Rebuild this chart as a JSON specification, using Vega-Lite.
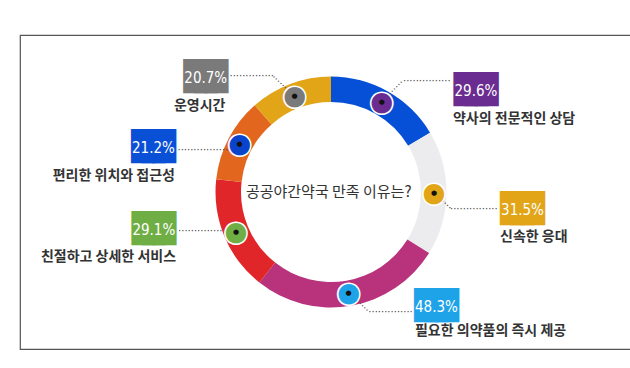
{
  "$schema": "https://vega.github.io/schema/vega-lite/v6.json",
  "width": 622,
  "height": 314,
  "autosize": {"type": "none"},
  "padding": {"left": 20, "top": 35, "right": -12, "bottom": 19},
  "background": "white",
  "view": {"stroke": "#555", "strokeWidth": 1.2},
  "data": {
    "values": [
      {"label": "약사의 전문적인 상담", "pct": "29.6%", "value": 29.6, "order": 1},
      {"label": "신속한 응대", "pct": "31.5%", "value": 31.5, "order": 2},
      {"label": "필요한 의약품의 즉시 제공", "pct": "48.3%", "value": 48.3, "order": 3},
      {"label": "친절하고 상세한 서비스", "pct": "29.1%", "value": 29.1, "order": 4},
      {"label": "편리한 위치와 접근성", "pct": "21.2%", "value": 21.2, "order": 5},
      {"label": "운영시간", "pct": "20.7%", "value": 20.7, "order": 6}
    ]
  },
  "encoding": {
    "theta": {"field": "value", "type": "quantitative", "stack": true},
    "order": {"field": "order", "type": "quantitative"}
  },
  "layer": [
    {
      "mark": {"type": "arc", "innerRadius": 90, "outerRadius": 115.5},
      "encoding": {
        "color": {
          "field": "label", "type": "nominal", "legend": null,
          "scale": {
            "domain": ["약사의 전문적인 상담", "신속한 응대", "필요한 의약품의 즉시 제공", "친절하고 상세한 서비스", "편리한 위치와 접근성", "운영시간"],
            "range": ["#0650d8", "#ececef", "#b8327c", "#e1262a", "#e3661f", "#e1a517"]
          }
        }
      }
    },
    {"mark": {"type": "text", "radius": 103, "align": "left", "baseline": "middle", "angle": 315, "dx": 10.5, "font": "DejaVu Sans", "fontSize": 10, "fill": "#444"},
     "encoding": {"text": {"condition": {"test": "datum.order === 1", "value": "······"}, "value": ""}}},
    {"mark": {"type": "text", "radius": 103, "align": "left", "baseline": "middle", "dx": 21.2, "dy": -21.4, "font": "DejaVu Sans", "fontSize": 10, "fill": "#444"},
     "encoding": {"text": {"condition": {"test": "datum.order === 1", "value": "···············"}, "value": ""}}},
    {"mark": {"type": "text", "radius": 103, "align": "left", "baseline": "middle", "angle": 44.5, "dx": 10.5, "font": "DejaVu Sans", "fontSize": 10, "fill": "#444"},
     "encoding": {"text": {"condition": {"test": "datum.order === 2", "value": "····"}, "value": ""}}},
    {"mark": {"type": "text", "radius": 103, "align": "left", "baseline": "middle", "dx": 16, "dy": 15.7, "font": "DejaVu Sans", "fontSize": 10, "fill": "#444"},
     "encoding": {"text": {"condition": {"test": "datum.order === 2", "value": "···············"}, "value": ""}}},
    {"mark": {"type": "text", "radius": 103, "align": "left", "baseline": "middle", "angle": 43, "dx": 10.5, "font": "DejaVu Sans", "fontSize": 10, "fill": "#444"},
     "encoding": {"text": {"condition": {"test": "datum.order === 3", "value": "·····"}, "value": ""}}},
    {"mark": {"type": "text", "radius": 103, "align": "left", "baseline": "middle", "dx": 19.6, "dy": 18.5, "font": "DejaVu Sans", "fontSize": 10, "fill": "#444"},
     "encoding": {"text": {"condition": {"test": "datum.order === 3", "value": "··············"}, "value": ""}}},
    {"mark": {"type": "text", "radius": 103, "align": "left", "baseline": "middle", "dx": -57.9, "dy": -0.5, "font": "DejaVu Sans", "fontSize": 10, "fill": "#444"},
     "encoding": {"text": {"condition": {"test": "datum.order === 4", "value": "···············"}, "value": ""}}},
    {"mark": {"type": "text", "radius": 103, "align": "left", "baseline": "middle", "dx": -62.2, "dy": 5.2, "font": "DejaVu Sans", "fontSize": 10, "fill": "#444"},
     "encoding": {"text": {"condition": {"test": "datum.order === 5", "value": "·················"}, "value": ""}}},
    {"mark": {"type": "text", "radius": 103, "align": "left", "baseline": "middle", "angle": 223, "dx": 10.5, "font": "DejaVu Sans", "fontSize": 10, "fill": "#444"},
     "encoding": {"text": {"condition": {"test": "datum.order === 6", "value": "······"}, "value": ""}}},
    {"mark": {"type": "text", "radius": 103, "align": "left", "baseline": "middle", "dx": -65.2, "dy": -19.6, "font": "DejaVu Sans", "fontSize": 10, "fill": "#444"},
     "encoding": {"text": {"condition": {"test": "datum.order === 6", "value": "··············"}, "value": ""}}},
    {
      "mark": {"type": "text", "radius": 103, "text": "●", "font": "DejaVu Sans", "fontSize": 29, "align": "center", "baseline": "middle", "stroke": "white", "strokeWidth": 1.5},
      "encoding": {
        "fill": {
          "field": "label", "type": "nominal", "legend": null,
          "scale": {
            "domain": ["약사의 전문적인 상담", "신속한 응대", "필요한 의약품의 즉시 제공", "친절하고 상세한 서비스", "편리한 위치와 접근성", "운영시간"],
            "range": ["#6b2c91", "#e2a517", "#1ea3e8", "#6fae45", "#0a44cc", "#7a7a7a"]
          }
        }
      }
    },
    {"mark": {"type": "text", "radius": 103, "text": "●", "font": "DejaVu Sans", "fontSize": 7, "align": "center", "baseline": "middle", "fill": "#111"}},
    {"mark": {"type": "text", "radius": 0, "dx": -2.3, "align": "center", "baseline": "middle", "font": "Noto Sans CJK KR", "fontSize": 15, "fill": "#333"},
     "encoding": {"text": {"condition": {"test": "datum.order === 1", "value": "공공야간약국 만족 이유는?"}, "value": ""}}},

    {"mark": {"type": "text", "radius": 103, "dx": 94.2, "dy": -12.6, "align": "center", "baseline": "middle", "font": "DejaVu Sans Mono", "fontSize": 17.4, "fill": "#6b2c91", "stroke": "#6b2c91", "strokeWidth": 13.6, "strokeJoin": "miter"},
     "encoding": {"text": {"condition": {"test": "datum.order === 1", "value": "███"}, "value": ""}}},
    {"mark": {"type": "text", "radius": 103, "dx": 94.2, "dy": -11.6, "align": "center", "baseline": "middle", "font": "Liberation Sans Narrow, DejaVu Sans Condensed, Roboto", "fontSize": 15, "fill": "white"},
     "encoding": {"text": {"condition": {"test": "datum.order === 1", "field": "pct"}, "value": ""}}},
    {"mark": {"type": "text", "radius": 103, "dx": 71.2, "dy": 16.9, "align": "left", "baseline": "middle", "font": "Noto Sans CJK KR", "fontSize": 14, "fontWeight": "bold", "fill": "#333"},
     "encoding": {"text": {"condition": {"test": "datum.order === 1", "field": "label"}, "value": ""}}},

    {"mark": {"type": "text", "radius": 103, "dx": 88.5, "dy": 16.4, "align": "center", "baseline": "middle", "font": "DejaVu Sans Mono", "fontSize": 17.4, "fill": "#e2a517", "stroke": "#e2a517", "strokeWidth": 13.6, "strokeJoin": "miter"},
     "encoding": {"text": {"condition": {"test": "datum.order === 2", "value": "███"}, "value": ""}}},
    {"mark": {"type": "text", "radius": 103, "dx": 88.5, "dy": 17.4, "align": "center", "baseline": "middle", "font": "Liberation Sans Narrow, DejaVu Sans Condensed, Roboto", "fontSize": 15, "fill": "white"},
     "encoding": {"text": {"condition": {"test": "datum.order === 2", "field": "pct"}, "value": ""}}},
    {"mark": {"type": "text", "radius": 103, "dx": 66, "dy": 44.4, "align": "left", "baseline": "middle", "font": "Noto Sans CJK KR", "fontSize": 14, "fontWeight": "bold", "fill": "#333"},
     "encoding": {"text": {"condition": {"test": "datum.order === 2", "field": "label"}, "value": ""}}},

    {"mark": {"type": "text", "radius": 103, "dx": 87.8, "dy": 12.8, "align": "center", "baseline": "middle", "font": "DejaVu Sans Mono", "fontSize": 17.4, "fill": "#1ea3e8", "stroke": "#1ea3e8", "strokeWidth": 13.6, "strokeJoin": "miter"},
     "encoding": {"text": {"condition": {"test": "datum.order === 3", "value": "███"}, "value": ""}}},
    {"mark": {"type": "text", "radius": 103, "dx": 87.8, "dy": 13.8, "align": "center", "baseline": "middle", "font": "Liberation Sans Narrow, DejaVu Sans Condensed, Roboto", "fontSize": 15, "fill": "white"},
     "encoding": {"text": {"condition": {"test": "datum.order === 3", "field": "pct"}, "value": ""}}},
    {"mark": {"type": "text", "radius": 103, "dx": 66.3, "dy": 37.8, "align": "left", "baseline": "middle", "font": "Noto Sans CJK KR", "fontSize": 14, "fontWeight": "bold", "fill": "#333"},
     "encoding": {"text": {"condition": {"test": "datum.order === 3", "field": "label"}, "value": ""}}},

    {"mark": {"type": "text", "radius": 103, "dx": -82.1, "dy": -2.7, "align": "center", "baseline": "middle", "font": "DejaVu Sans Mono", "fontSize": 17.4, "fill": "#6fae45", "stroke": "#6fae45", "strokeWidth": 13.6, "strokeJoin": "miter"},
     "encoding": {"text": {"condition": {"test": "datum.order === 4", "value": "███"}, "value": ""}}},
    {"mark": {"type": "text", "radius": 103, "dx": -82.1, "dy": -1.7, "align": "center", "baseline": "middle", "font": "Liberation Sans Narrow, DejaVu Sans Condensed, Roboto", "fontSize": 15, "fill": "white"},
     "encoding": {"text": {"condition": {"test": "datum.order === 4", "field": "pct"}, "value": ""}}},
    {"mark": {"type": "text", "radius": 103, "dx": -59.9, "dy": 25.6, "align": "right", "baseline": "middle", "font": "Noto Sans CJK KR", "fontSize": 14, "fontWeight": "bold", "fill": "#333"},
     "encoding": {"text": {"condition": {"test": "datum.order === 4", "field": "label"}, "value": ""}}},

    {"mark": {"type": "text", "radius": 103, "dx": -86.2, "dy": 2.9, "align": "center", "baseline": "middle", "font": "DejaVu Sans Mono", "fontSize": 17.4, "fill": "#0a50d6", "stroke": "#0a50d6", "strokeWidth": 13.6, "strokeJoin": "miter"},
     "encoding": {"text": {"condition": {"test": "datum.order === 5", "value": "███"}, "value": ""}}},
    {"mark": {"type": "text", "radius": 103, "dx": -86.2, "dy": 3.9, "align": "center", "baseline": "middle", "font": "Liberation Sans Narrow, DejaVu Sans Condensed, Roboto", "fontSize": 15, "fill": "white"},
     "encoding": {"text": {"condition": {"test": "datum.order === 5", "field": "pct"}, "value": ""}}},
    {"mark": {"type": "text", "radius": 103, "dx": -64.7, "dy": 31.6, "align": "right", "baseline": "middle", "font": "Noto Sans CJK KR", "fontSize": 14, "fontWeight": "bold", "fill": "#333"},
     "encoding": {"text": {"condition": {"test": "datum.order === 5", "field": "label"}, "value": ""}}},

    {"mark": {"type": "text", "radius": 103, "dx": -88.9, "dy": -18.5, "align": "center", "baseline": "middle", "font": "DejaVu Sans Mono", "fontSize": 17.4, "fill": "#7a7a7a", "stroke": "#7a7a7a", "strokeWidth": 13.6, "strokeJoin": "miter"},
     "encoding": {"text": {"condition": {"test": "datum.order === 6", "value": "███"}, "value": ""}}},
    {"mark": {"type": "text", "radius": 103, "dx": -88.9, "dy": -17.5, "align": "center", "baseline": "middle", "font": "Liberation Sans Narrow, DejaVu Sans Condensed, Roboto", "fontSize": 15, "fill": "white"},
     "encoding": {"text": {"condition": {"test": "datum.order === 6", "field": "pct"}, "value": ""}}},
    {"mark": {"type": "text", "radius": 103, "dx": -69.2, "dy": 10.7, "align": "right", "baseline": "middle", "font": "Noto Sans CJK KR", "fontSize": 14, "fontWeight": "bold", "fill": "#333"},
     "encoding": {"text": {"condition": {"test": "datum.order === 6", "field": "label"}, "value": ""}}}
  ]
}
